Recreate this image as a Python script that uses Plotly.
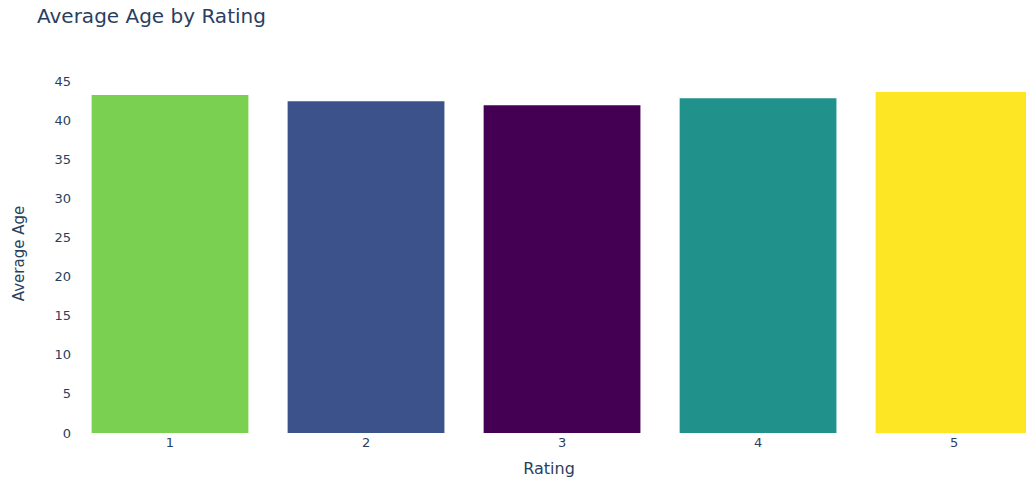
import plotly.graph_objects as go

# Average customer age per rating level
ratings = [1, 2, 3, 4, 5]
avg_age = [43.2, 42.4, 41.9, 42.8, 43.6]
bar_colors = ["#7AD151", "#3B528B", "#440154", "#21918C", "#FDE725"]
y_ticks = [0, 5, 10, 15, 20, 25, 30, 35, 40, 45]

FONT = "DejaVu Sans, Verdana, sans-serif"
TEXT = "#2a3f5f"

fig = go.Figure(
    go.Bar(
        x=ratings,
        y=avg_age,
        marker=dict(color=bar_colors, line=dict(width=0)),
        width=0.8,
    )
)

fig.update_layout(
    width=1026,
    height=481,
    autosize=False,
    paper_bgcolor="white",
    plot_bgcolor="white",
    margin=dict(l=72, r=0, t=74, b=48),
    font=dict(family=FONT, size=12, color=TEXT),
    title=dict(
        text="Average Age by Rating",
        font=dict(family=FONT, size=20, color=TEXT),
        x=37 / 1026,
        xanchor="left",
        xref="container",
        y=1 - 16 / 481,
        yanchor="middle",
        yref="container",
    ),
    showlegend=False,
    bargap=0.2,
)

fig.update_xaxes(
    range=[0.5, 5.367],
    tickmode="array",
    tickvals=ratings,
    ticktext=[str(r) for r in ratings],
    showgrid=False,
    zeroline=False,
    showline=False,
    ticks="",
    tickfont=dict(size=13),
    title=dict(text="Rating", font=dict(size=16, color=TEXT), standoff=13),
)

fig.update_yaxes(
    range=[0, 45.9],
    tickmode="array",
    tickvals=y_ticks,
    showgrid=False,
    zeroline=False,
    showline=False,
    ticks="",
    tickfont=dict(size=13),
    title=dict(text="Average Age", font=dict(size=15, color=TEXT), standoff=26),
)

fig.write_html("out.html")
